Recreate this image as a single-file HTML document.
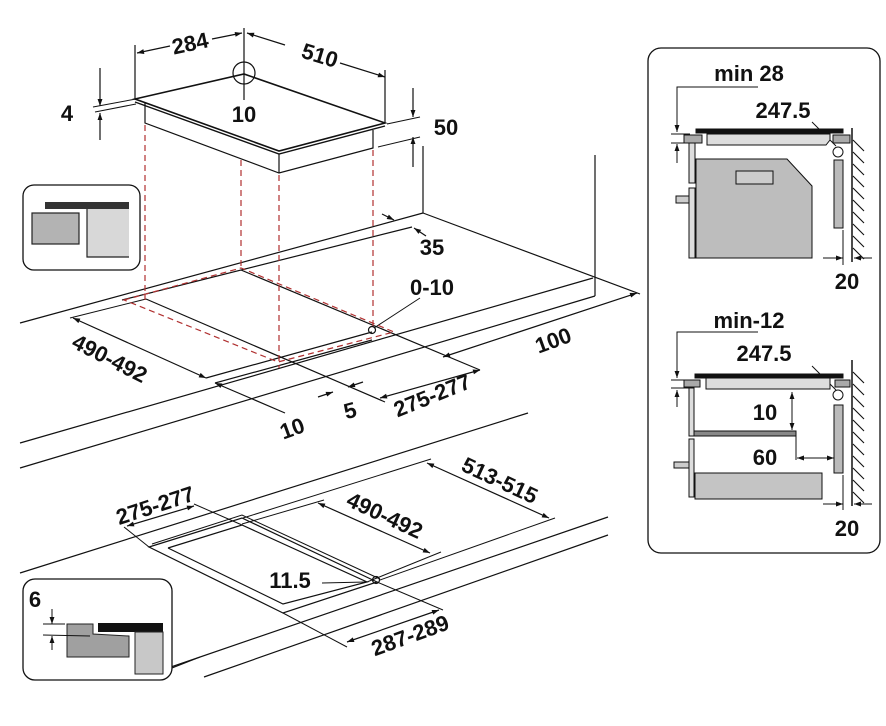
<!DOCTYPE html>
<html><head><meta charset="utf-8"><style>
html,body{margin:0;padding:0;background:#fff}
svg{display:block}
text{font-family:"Liberation Sans",sans-serif;font-weight:bold;fill:#111}
</style></head><body>
<svg width="886" height="726" viewBox="0 0 886 726" xmlns="http://www.w3.org/2000/svg">
<defs>
<marker id="a" viewBox="0 0 10 10" refX="10" refY="5" markerWidth="9" markerHeight="7" orient="auto-start-reverse" markerUnits="userSpaceOnUse"><path d="M0,1.5 L10,5 L0,8.5z" fill="#111"/></marker>
</defs>
<g stroke="#111" stroke-width="1.2" fill="none">
<polygon points="135,99 244,74 385,123 279,151" stroke-width="1.6"/>
<polyline points="135,102 279,154 385,126" stroke-width="1.4"/>
<polyline points="145,103 145,123 279,173 373,148 373,130"/>
<line x1="279" y1="154" x2="279" y2="173"/>
<line x1="135" y1="45" x2="135" y2="99"/>
<line x1="244" y1="28" x2="244" y2="100"/>
<circle cx="244" cy="73" r="11"/>
<line x1="385" y1="70" x2="385" y2="123"/>
<line x1="137" y1="53" x2="170" y2="46" marker-start="url(#a)"/>
<line x1="212" y1="39" x2="242" y2="33" marker-end="url(#a)"/>
<line x1="247" y1="33" x2="285" y2="45" marker-start="url(#a)"/>
<line x1="340" y1="63" x2="385" y2="77" marker-end="url(#a)"/>
<line x1="93" y1="107" x2="136" y2="99" stroke-width="1"/>
<line x1="95" y1="112" x2="136" y2="104" stroke-width="1"/>
<line x1="100" y1="68" x2="100" y2="106" marker-end="url(#a)"/>
<line x1="100" y1="140" x2="100" y2="113" marker-end="url(#a)"/>
<line x1="387" y1="124" x2="420" y2="117" stroke-width="1"/>
<line x1="378" y1="147" x2="420" y2="137" stroke-width="1"/>
<line x1="413" y1="88" x2="413" y2="117" marker-end="url(#a)"/>
<line x1="413" y1="167" x2="413" y2="137" marker-end="url(#a)"/>
<line x1="423" y1="146" x2="423" y2="213"/>
<line x1="20" y1="323" x2="423" y2="213"/>
<line x1="423" y1="213" x2="640" y2="294"/>
<line x1="595" y1="155" x2="595" y2="296"/>
<line x1="20" y1="443" x2="593" y2="278"/>
<line x1="20" y1="468" x2="595" y2="296"/>
<line x1="122" y1="300" x2="412" y2="227"/>
<line x1="146" y1="299" x2="385" y2="402"/>
<line x1="241" y1="270" x2="480" y2="370"/>
<line x1="206" y1="378" x2="372" y2="332"/>
<line x1="215" y1="383" x2="372" y2="340"/>
<circle cx="372" cy="330" r="3.5"/>
<line x1="420" y1="298" x2="374" y2="328" stroke-width="1"/>
<line x1="382" y1="214" x2="394" y2="220" marker-end="url(#a)"/>
<line x1="426" y1="236" x2="414" y2="228" marker-end="url(#a)"/>
<line x1="70" y1="318" x2="146" y2="299" stroke-width="1"/>
<line x1="73" y1="318" x2="206" y2="378" marker-start="url(#a)" marker-end="url(#a)"/>
<line x1="215" y1="383" x2="285" y2="413" marker-start="url(#a)"/>
<line x1="318" y1="397" x2="333" y2="392" marker-end="url(#a)"/>
<line x1="363" y1="382" x2="348" y2="387" marker-end="url(#a)"/>
<line x1="380" y1="398" x2="480" y2="370" marker-start="url(#a)" marker-end="url(#a)"/>
<line x1="443" y1="357" x2="637" y2="293" marker-start="url(#a)" marker-end="url(#a)"/>
<line x1="20" y1="573" x2="528" y2="413"/>
<line x1="171" y1="667" x2="608" y2="517"/>
<line x1="204" y1="677" x2="608" y2="535"/>
<polygon points="149,547 242,518 377,582 283,613"/>
<polyline points="152,544 242,515 380,579" stroke-width="1"/>
<polyline points="168,548 242,525 367,582 283,604 168,548"/>
<circle cx="376" cy="580" r="3.5"/>
<line x1="322" y1="583" x2="366" y2="582" stroke-width="1"/>
<line x1="243" y1="518" x2="431" y2="459" stroke-width="1"/>
<line x1="380" y1="580" x2="555" y2="518" stroke-width="1"/>
<line x1="427" y1="463" x2="549" y2="518" marker-start="url(#a)" marker-end="url(#a)"/>
<line x1="242" y1="524" x2="324" y2="500" stroke-width="1"/>
<line x1="367" y1="582" x2="441" y2="552" stroke-width="1"/>
<line x1="318" y1="503" x2="430" y2="553" marker-start="url(#a)" marker-end="url(#a)"/>
<line x1="194" y1="504" x2="242" y2="525" stroke-width="1"/>
<line x1="124" y1="527" x2="149" y2="547" stroke-width="1"/>
<line x1="127" y1="526" x2="194" y2="506" marker-start="url(#a)" marker-end="url(#a)"/>
<line x1="377" y1="582" x2="443" y2="610" stroke-width="1"/>
<line x1="283" y1="613" x2="347" y2="647" stroke-width="1"/>
<line x1="347" y1="642" x2="439" y2="610" marker-start="url(#a)" marker-end="url(#a)"/>
</g>
<g stroke="#b03030" stroke-width="1.2" fill="none" stroke-dasharray="6,4">
<line x1="145" y1="125" x2="145" y2="300"/>
<line x1="241" y1="160" x2="241" y2="270"/>
<line x1="279" y1="175" x2="279" y2="368"/>
<line x1="373" y1="150" x2="373" y2="330"/>
<polygon points="124,300 241,268 394,332 278,362"/>
</g>
<rect x="23" y="185" width="117" height="85" rx="11" fill="#fff" stroke="#111" stroke-width="1.3"/>
<rect x="45" y="202" width="84" height="7" fill="#333"/>
<rect x="32" y="213" width="47" height="31" fill="#b3b3b3" stroke="#222" stroke-width="1.2"/>
<rect x="87" y="209" width="42" height="48" fill="#d8d8d8"/>
<polyline points="87,209 87,257 129,257" fill="none" stroke="#222" stroke-width="1.2"/>
<line x1="172" y1="668" x2="200" y2="657" stroke="#111" stroke-width="1.2"/>
<rect x="23" y="579" width="149" height="101" rx="12" fill="#fff" stroke="#111" stroke-width="1.3"/>
<rect x="98" y="623" width="65" height="9" fill="#111"/>
<polygon points="67,624 93,624 93,634 129,636 129,657 67,657" fill="#a0a0a0" stroke="#222" stroke-width="1"/>
<rect x="135" y="632" width="28" height="42" fill="#c8c8c8" stroke="#222" stroke-width="1"/>
<g stroke="#111" stroke-width="1">
<line x1="43" y1="624" x2="65" y2="624"/><line x1="43" y1="635" x2="90" y2="636"/>
<line x1="52" y1="609" x2="52" y2="624" marker-end="url(#a)"/>
<line x1="52" y1="650" x2="52" y2="636" marker-end="url(#a)"/>
</g>
<rect x="648" y="48" width="232" height="505" rx="13" fill="#fff" stroke="#111" stroke-width="1.3"/>
<g stroke="#111" stroke-width="1">
<polyline points="758,87 677,87 677,132" fill="none" marker-end="url(#a)"/>
<line x1="671" y1="134" x2="690" y2="134"/><line x1="671" y1="143" x2="690" y2="143"/>
<line x1="677" y1="163" x2="677" y2="144" marker-end="url(#a)"/>
<line x1="812" y1="122" x2="836" y2="146"/>
<rect x="696" y="129" width="147" height="4" fill="#111"/>
<rect x="684" y="135" width="18" height="8" fill="#aaa"/>
<rect x="833" y="135" width="17" height="8" fill="#aaa"/>
<polygon points="707,134 830,134 830,140 826,145 707,145" fill="#ddd"/>
<circle cx="838" cy="152" r="5" fill="#fff"/>
<rect x="834" y="160" width="9" height="68" fill="#bbb"/>
<rect x="689" y="143" width="6" height="40" fill="#ddd"/>
<rect x="689" y="188" width="6" height="70" fill="#ddd"/>
<rect x="676" y="196" width="13" height="7" fill="#ccc"/>
<polygon points="696,159 787,159 812,186 812,258 696,258" fill="#bdbdbd"/>
<rect x="736" y="171" width="37" height="13" fill="#ccc"/>
<line x1="852" y1="128" x2="852" y2="262" stroke-width="1.5"/>
<line x1="843" y1="230" x2="843" y2="265"/>
<line x1="823" y1="258" x2="843" y2="258" marker-end="url(#a)"/>
<line x1="872" y1="258" x2="854" y2="258" marker-end="url(#a)"/>
<polyline points="758,332 677,332 677,378" fill="none" marker-end="url(#a)"/>
<line x1="671" y1="380" x2="690" y2="380"/><line x1="671" y1="388" x2="690" y2="388"/>
<line x1="677" y1="407" x2="677" y2="390" marker-end="url(#a)"/>
<line x1="812" y1="366" x2="836" y2="390"/>
<rect x="695" y="374" width="148" height="4" fill="#111"/>
<rect x="684" y="380" width="16" height="7" fill="#aaa"/>
<rect x="835" y="380" width="15" height="7" fill="#aaa"/>
<rect x="706" y="378" width="124" height="11" fill="#ddd"/>
<circle cx="838" cy="395" r="5" fill="#fff"/>
<rect x="834" y="405" width="9" height="68" fill="#bbb"/>
<rect x="689" y="388" width="5" height="48" fill="#ddd"/>
<rect x="694" y="431" width="102" height="5" fill="#888"/>
<rect x="689" y="439" width="5" height="58" fill="#ddd"/>
<rect x="674" y="462" width="15" height="6" fill="#ccc"/>
<rect x="695" y="473" width="127" height="26" fill="#c4c4c4"/>
<line x1="792" y1="392" x2="792" y2="430" marker-start="url(#a)" marker-end="url(#a)"/>
<line x1="796" y1="436" x2="796" y2="460"/>
<line x1="797" y1="458" x2="834" y2="458" marker-start="url(#a)" marker-end="url(#a)"/>
<line x1="852" y1="360" x2="852" y2="506" stroke-width="1.5"/>
<line x1="843" y1="475" x2="843" y2="510"/>
<line x1="823" y1="504" x2="843" y2="504" marker-end="url(#a)"/>
<line x1="872" y1="504" x2="854" y2="504" marker-end="url(#a)"/>
</g>
<g stroke="#111" stroke-width="1.1">
<path d="M853,140 l11,11 M853,152 l11,11 M853,164 l11,11 M853,176 l11,11 M853,188 l11,11 M853,200 l11,11 M853,212 l11,11 M853,224 l11,11 M853,236 l11,11 M853,248 l11,11"/>
<path d="M853,372 l11,11 M853,384 l11,11 M853,396 l11,11 M853,408 l11,11 M853,420 l11,11 M853,432 l11,11 M853,444 l11,11 M853,456 l11,11 M853,468 l11,11 M853,480 l11,11 M853,492 l11,11"/>
</g>
<g font-size="22">
<text x="190" y="51" text-anchor="middle" transform="rotate(-12 190 43)">284</text>
<text x="320" y="63" text-anchor="middle" transform="rotate(17 320 55)">510</text>
<text x="67" y="121" text-anchor="middle">4</text>
<text x="244" y="122" text-anchor="middle">10</text>
<text x="446" y="135" text-anchor="middle">50</text>
<text x="432" y="255" text-anchor="middle">35</text>
<text x="432" y="295" text-anchor="middle">0-10</text>
<text x="110" y="366" text-anchor="middle" transform="rotate(27 110 358)">490-492</text>
<text x="292" y="436" text-anchor="middle" transform="rotate(-20 292 428)">10</text>
<text x="350" y="418" text-anchor="middle" transform="rotate(-15 350 410)">5</text>
<text x="432" y="403" text-anchor="middle" transform="rotate(-22 432 395)">275-277</text>
<text x="553" y="348" text-anchor="middle" transform="rotate(-20 553 340)">100</text>
<text x="500" y="488" text-anchor="middle" transform="rotate(25 500 480)">513-515</text>
<text x="385" y="523" text-anchor="middle" transform="rotate(25 385 515)">490-492</text>
<text x="155" y="513" text-anchor="middle" transform="rotate(-18 155 505)">275-277</text>
<text x="410" y="643" text-anchor="middle" transform="rotate(-20 410 635)">287-289</text>
<text x="290" y="588" text-anchor="middle">11.5</text>
<text x="35" y="607" text-anchor="middle">6</text>
<text x="749" y="81" text-anchor="middle">min 28</text>
<text x="783" y="118" text-anchor="middle">247.5</text>
<text x="847" y="289" text-anchor="middle">20</text>
<text x="749" y="328" text-anchor="middle">min-12</text>
<text x="764" y="361" text-anchor="middle">247.5</text>
<text x="765" y="420" text-anchor="middle">10</text>
<text x="765" y="465" text-anchor="middle">60</text>
<text x="847" y="536" text-anchor="middle">20</text>
</g>
</svg>
</body></html>
